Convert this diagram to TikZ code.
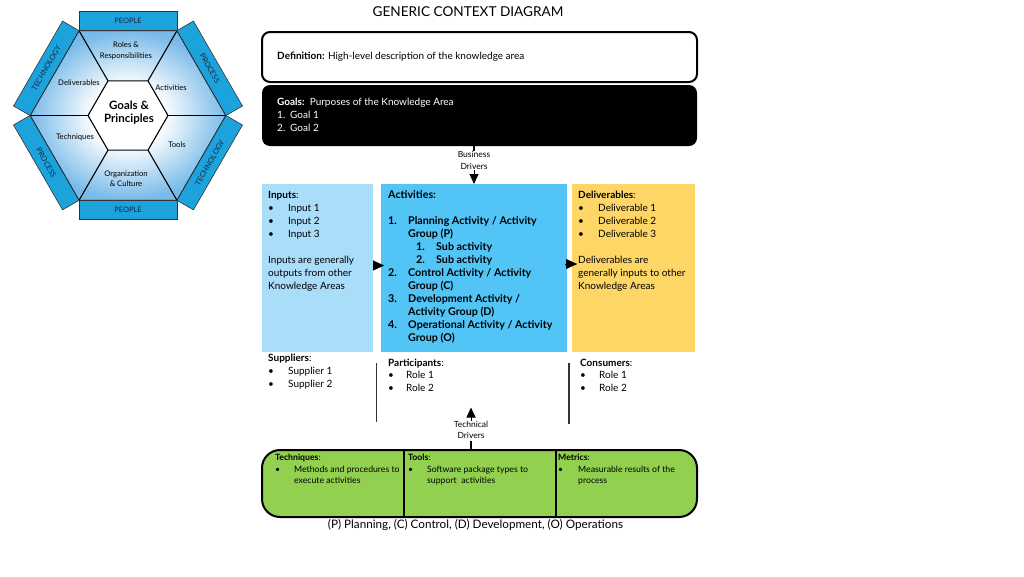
\documentclass[tikz,border=0pt]{standalone}
\usepackage{fontspec}
\setmainfont{Lato}
\usetikzlibrary{calc,arrows.meta}
\definecolor{bandblue}{RGB}{28,163,220}
\definecolor{hexblue}{RGB}{120,186,233}
\definecolor{inpblue}{RGB}{170,221,250}
\definecolor{actblue}{RGB}{82,196,246}
\definecolor{delyellow}{RGB}{253,214,102}
\definecolor{tgreen}{RGB}{146,208,80}
\definecolor{bandtext}{RGB}{20,40,70}
\pgfdeclareradialshading{hexshade}{\pgfpoint{0bp}{0bp}}{color(0bp)=(white); color(9bp)=(white); color(25bp)=(hexblue); color(50bp)=(hexblue)}
\tikzset{
  hexline/.style={draw=black, line width=1.1pt},
  band/.style={draw=black!80, line width=0.6pt, fill=bandblue},
  bandlbl/.style={font=\fontsize{7.5}{8}\selectfont, text=bandtext, inner sep=0pt},
  hexlbl/.style={font=\fontsize{7.7}{10.4}\selectfont, align=center, inner sep=0pt},
  bodytxt/.style={anchor=north west, inner sep=0pt, align=left, font=\fontsize{10}{13}\selectfont},
  smalltxt/.style={anchor=north west, inner sep=0pt, align=left, font=\fontsize{8.7}{11.5}\selectfont},
  drvtxt/.style={inner sep=0pt, align=center, font=\fontsize{8.5}{11.5}\selectfont},
  cbox/.style={anchor=north west, inner sep=0pt, outer sep=0pt},
  boxarrow/.style={line width=0.1pt, -{Triangle[length=11pt,width=10pt]}},
  drvarrow/.style={line width=1pt, -{Triangle[length=10pt,width=9pt]}},
  stub/.style={line width=2.5pt},
  partline/.style={draw=black!80, line width=1.4pt}
}
\begin{document}
\begin{tikzpicture}[x=1pt,y=-1pt]
\useasboundingbox[fill=white] (0,0) rectangle (1024,576);

% ---------- hexagon ----------
\coordinate (C) at (128,115.5);
\foreach \i in {0,...,5}{
  \coordinate (O\i) at ($(C)+(\i*60:98)$);
  \coordinate (I\i) at ($(C)+(\i*60:40)$);
}
\shade[shading=hexshade] (O0)--(O1)--(O2)--(O3)--(O4)--(O5)--cycle;
\foreach \i in {0,...,5}{ \draw[hexline] (I\i) -- (O\i); }
\draw[hexline, fill=white] (I0)--(I1)--(I2)--(I3)--(I4)--(I5)--cycle;
\draw[hexline] (O0)--(O1)--(O2)--(O3)--(O4)--(O5)--cycle;
\foreach \i/\j in {0/1,1/2,2/3,3/4,4/5,5/0}{
  \pgfmathsetmacro{\a}{\i*60+30}
  \draw[band] (O\i) -- (O\j) -- ($(O\j)+(\a:19)$) -- ($(O\i)+(\a:19)$) -- cycle;
}
\node[bandlbl, rotate=60]  (b0) at ($(C)+(30:94.4)$)  {TECHNOLOGY};
\node[bandlbl]             (b1) at ($(C)+(90:94.4)$)  {PEOPLE};
\node[bandlbl, rotate=-60] (b2) at ($(C)+(150:94.4)$) {PROCESS};
\node[bandlbl, rotate=60]  (b3) at ($(C)+(210:94.4)$) {TECHNOLOGY};
\node[bandlbl]             (b4) at ($(C)+(270:94.4)$) {PEOPLE};
\node[bandlbl, rotate=-60] (b5) at ($(C)+(330:94.4)$) {PROCESS};

\node[hexlbl] (roles) at (126,51) {Roles \&\\Responsibilities};
\node[hexlbl] (delv) at (79,83) {Deliverables};
\node[hexlbl] (actv) at (171,87.5) {Activities};
\node[hexlbl] (techn) at (75,137.5) {Techniques};
\node[hexlbl] (tools) at (177,145) {Tools};
\node[hexlbl] (org) at (126,178.5) {Organization\\\& Culture};
\node[font=\bfseries\fontsize{11.5}{12.8}\selectfont, align=center, inner sep=0pt] (gp) at (129,113) {Goals \&\\Principles};

% ---------- title ----------
\node[font=\fontsize{13.6}{15}\selectfont, inner sep=0pt] (title) at (468,11.5) {GENERIC CONTEXT DIAGRAM};

% ---------- definition & goals ----------
\node[cbox, draw=black, line width=2pt, rounded corners=8pt, fill=white, minimum width=435pt, minimum height=50pt] (def) at (262,32) {};
\node[bodytxt, anchor=west] (deftxt) at (277,57) {\textbf{Definition:} High-level description of the knowledge area};

\node[cbox, fill=black, rounded corners=8pt, minimum width=435pt, minimum height=61pt] (goals) at (262,85) {};
\node[bodytxt, text=white] (goaltxt) at (277,98) {\textbf{Goals:}\ \ Purposes of the Knowledge Area\\\makebox[13pt][l]{1.}Goal 1\\\makebox[13pt][l]{2.}Goal 2};

% ---------- main boxes ----------
\node[cbox, fill=inpblue, minimum width=111pt, minimum height=168pt] (inp) at (262,184) {};
\node[cbox, fill=actblue, minimum width=186pt, minimum height=168pt] (act) at (381,184) {};
\node[cbox, fill=delyellow, minimum width=123pt, minimum height=168pt] (del) at (572,184) {};

\node[bodytxt] (inptxt) at (268,191) {\textbf{Inputs}:\\
\makebox[20pt][l]{•}Input 1\\
\makebox[20pt][l]{•}Input 2\\
\makebox[20pt][l]{•}Input 3\\[13pt]
Inputs are generally\\outputs from other\\Knowledge Areas};

\node[bodytxt, font=\bfseries\fontsize{10.7}{13}\selectfont] (acttxt) at (388,190.5) {Activities:\\[13pt]
\makebox[20pt][l]{1.}Planning Activity / Activity\\
\hspace*{20pt}Group (P)\\
\hspace*{28pt}\makebox[20pt][l]{1.}Sub activity\\
\hspace*{28pt}\makebox[20pt][l]{2.}Sub activity\\
\makebox[20pt][l]{2.}Control Activity / Activity\\
\hspace*{20pt}Group (C)\\
\makebox[20pt][l]{3.}Development Activity /\\
\hspace*{20pt}Activity Group (D)\\
\makebox[20pt][l]{4.}Operational Activity / Activity\\
\hspace*{20pt}Group (O)};

\node[bodytxt] (deltxt) at (578,191) {\textbf{Deliverables}:\\
\makebox[20pt][l]{•}Deliverable 1\\
\makebox[20pt][l]{•}Deliverable 2\\
\makebox[20pt][l]{•}Deliverable 3\\[13pt]
Deliverables are\\generally inputs to other\\Knowledge Areas};

% ---------- suppliers / participants / consumers ----------
\node[bodytxt, font=\fontsize{10}{12.7}\selectfont] (sup) at (268,354) {\textbf{Suppliers}:\\
\makebox[20pt][l]{•}Supplier 1\\
\makebox[20pt][l]{•}Supplier 2};
\node[bodytxt, font=\fontsize{10}{12.8}\selectfont] (part) at (388,358.5) {\textbf{Participants}:\\
\makebox[18pt][l]{•}Role 1\\
\makebox[18pt][l]{•}Role 2};
\node[bodytxt, font=\fontsize{10}{12.8}\selectfont] (cons) at (580,358.5) {\textbf{Consumers}:\\
\makebox[19pt][l]{•}Role 1\\
\makebox[19pt][l]{•}Role 2};
\coordinate (pl1) at (376.7,363); \coordinate (pl2) at (376.7,421.7);
\coordinate (cl1) at (569,363);   \coordinate (cl2) at (569,424);
\draw[partline] (pl1) -- (pl2);
\draw[partline] (cl1) -- (cl2);

% ---------- bottom box ----------
\node[cbox, draw=black, line width=2pt, rounded corners=18pt, fill=tgreen, minimum width=435pt, minimum height=67pt] (green) at (262,450) {};
\draw[line width=1.5pt] ($(green.north west)+(142,0)$) -- ($(green.south west)+(142,0)$);
\draw[line width=1.5pt] ($(green.north west)+(294,0)$) -- ($(green.south west)+(294,0)$);
\node[smalltxt] (techtxt) at (275,454) {\textbf{Techniques}:\\
\makebox[19pt][l]{•}Methods and procedures to\\
\hspace*{19pt}execute activities};
\node[smalltxt] (tooltxt) at (408,454) {\textbf{Tools}:\\
\makebox[19pt][l]{•}Software package types to\\
\hspace*{19pt}support\ \ activities};
\node[smalltxt] (mettxt) at (558,454) {\textbf{Metrics}:\\
\makebox[20pt][l]{•}Measurable results of the\\
\hspace*{20pt}process};

% ---------- drivers and arrows ----------
\node[drvtxt] (bd) at (474,160.5) {Business\\Drivers};
\draw[stub] (goals.south -| bd.north) -- (bd.north);
\draw[drvarrow] (bd.south) -- (bd.south |- act.north);

\node[drvtxt] (td) at (471,430) {Technical\\Drivers};
\coordinate (tdtip) at (471,407.5);
\draw[drvarrow] (td.north) -- (tdtip);
\draw[stub] ($(td.south)+(0,2)$) -- (td.south |- green.north);

\draw[boxarrow] (inp.east |- 0,265.5) -- ($(act.west |- 0,265.5)+(3,0)$);
\draw[boxarrow] ($(act.east |- 0,264)+(-2,0)$) -- ($(del.west |- 0,264)+(5,0)$);

% ---------- footer ----------
\node[font=\fontsize{11.7}{13}\selectfont, inner sep=0pt] (foot) at (475.5,525) {(P) Planning, (C) Control, (D) Development, (O) Operations};
\end{tikzpicture}
\end{document}
